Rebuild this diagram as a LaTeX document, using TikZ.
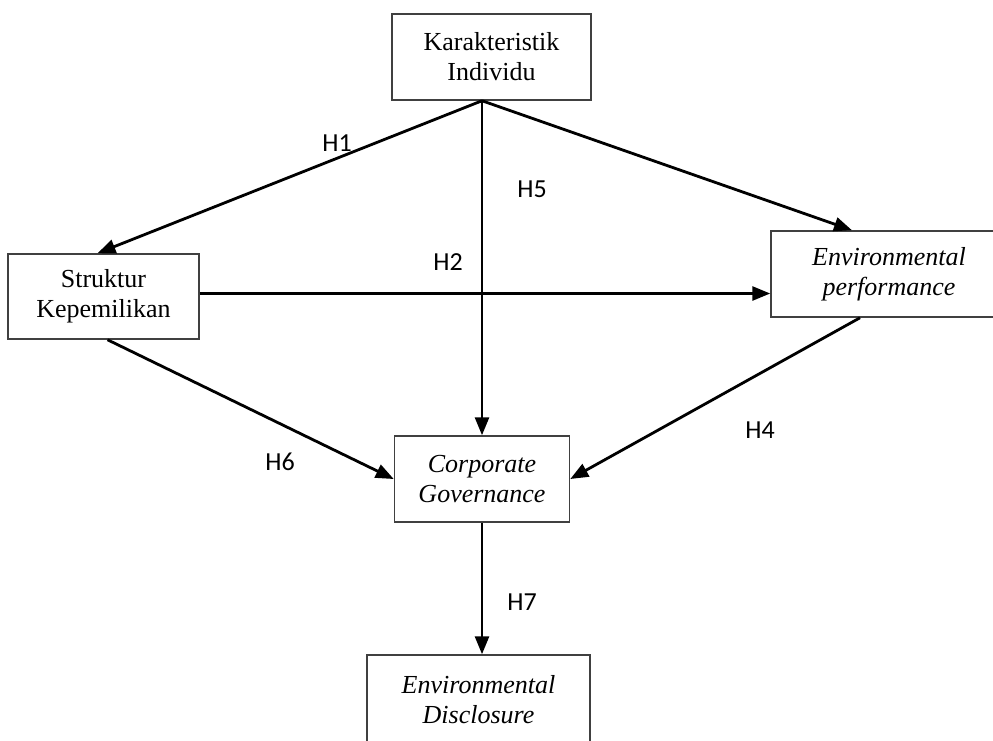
\documentclass[tikz,border=0pt]{standalone}
\usepackage{fontspec}
\setmainfont{Liberation Serif}
\newfontfamily\labfont{Carlito}
\usetikzlibrary{arrows.meta,calc}
\tikzset{
  box/.style={draw=black!75, line width=1.5pt, fill=white, align=center, inner sep=0pt,
    font=\fontsize{26}{30}\selectfont},
  conn/.style={line width=2.8pt, -{Triangle[length=18pt,width=14pt]}},
  lab/.style={font=\labfont\fontsize{26}{30}\selectfont, inner sep=0pt}
}
\begin{document}
\begin{tikzpicture}[x=1pt,y=-1pt]
\useasboundingbox (0,0) rectangle (993,740);
\clip (0,0) rectangle (993,740);
\node[box, minimum width=199pt, minimum height=86pt] (k) at (491.5,57) {Karakteristik\\Individu};
\node[box, minimum width=191pt, minimum height=85pt] (sk) at (103.5,296.5) {Struktur\\Kepemilikan};
\node[box, minimum width=236pt, minimum height=86pt] (ep) at (889,274) {\itshape Environmental\\\itshape performance};
\node[box, minimum width=223pt, minimum height=90pt] (ed) at (478.5,700) {\itshape Environmental\\\itshape Disclosure};
\node[box, minimum width=175pt, minimum height=86pt] (cg) at (482,479) {\itshape Corporate\\\itshape Governance};
\draw[conn] (k.south -| cg.north) -- ($(sk.north)+(-6,0)$);
\draw[conn] (k.south -| cg.north) -- (cg.north);
\draw[conn] (k.south -| cg.north) -- ($(ep.north)+(-37,0)$);
\draw[conn] ($(sk.east)+(0,-3)$) -- ($(sk.east -| ep.west)+(0,-3)$);
\draw[conn] ($(sk.south)+(4,0)$) -- (cg.west);
\draw[conn] ($(ep.south)+(-29,0)$) -- (cg.east);
\draw[conn] (cg.south) -- (cg.south |- ed.north);
\node[lab] (h1) at (337,143) {H1};
\node[lab] (h5) at (532,189) {H5};
\node[lab] (h2) at (448,262) {H2};
\node[lab] (h6) at (280,462) {H6};
\node[lab] (h4) at (760,430) {H4};
\node[lab] (h7) at (522,602) {H7};
\end{tikzpicture}
\end{document}
